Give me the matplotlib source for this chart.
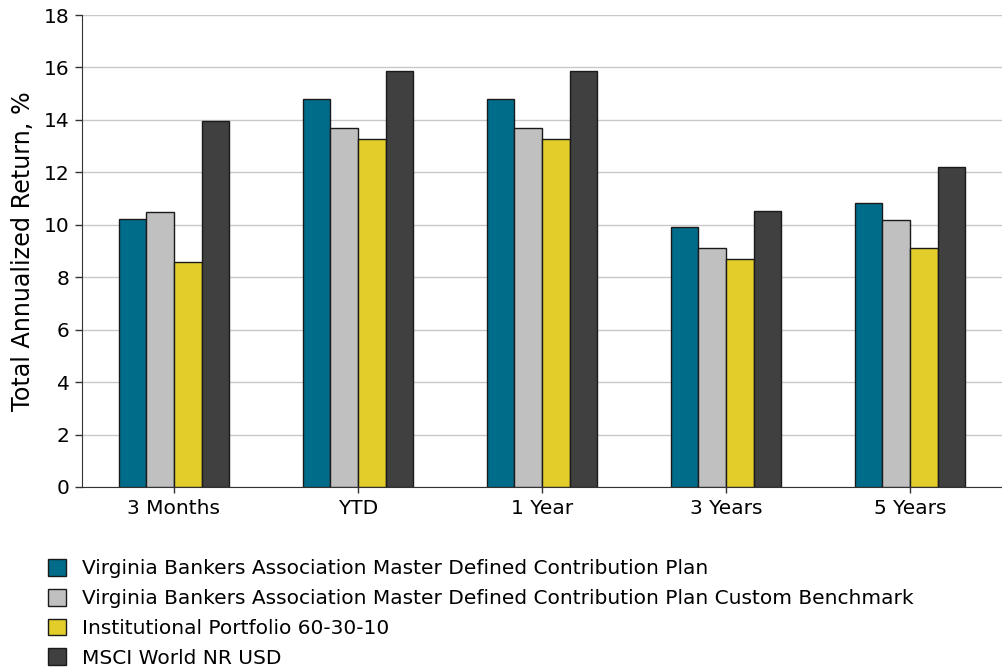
import matplotlib
matplotlib.use("Agg")
import matplotlib.pyplot as plt
import numpy as np

periods = ["3 Months", "YTD", "1 Year", "3 Years", "5 Years"]
series_names = [
    "Virginia Bankers Association Master Defined Contribution Plan",
    "Virginia Bankers Association Master Defined Contribution Plan Custom Benchmark",
    "Institutional Portfolio 60-30-10",
    "MSCI World NR USD",
]
plan = [10.21, 14.80, 14.80, 9.93, 10.82]
custom_benchmark = [10.50, 13.69, 13.69, 9.13, 10.20]
institutional = [8.59, 13.27, 13.27, 8.71, 9.13]
msci_world = [13.97, 15.88, 15.88, 10.54, 12.20]
yticks = [0, 2, 4, 6, 8, 10, 12, 14, 16, 18]

series_values = [plan, custom_benchmark, institutional, msci_world]
colors = ["#006C8A", "#C0C0C0", "#E2CD2A", "#404040"]

plt.rcParams["font.family"] = ["DejaVu Sans"]

fig = plt.figure(figsize=(10.02, 6.68), dpi=100)
ax = fig.add_axes([0.0818, 0.271, 0.9182, 0.7065])

x = np.arange(len(periods))
width = 0.15
for i, (vals, col) in enumerate(zip(series_values, colors)):
    offset = (i - 1.5) * width
    ax.bar(x + offset, vals, width, color=col, edgecolor="#1a1a1a",
           linewidth=1.0, label=series_names[i], zorder=3)

ax.set_xlim(-0.5, len(periods) - 0.5)
ax.set_ylim(0, 18)
ax.set_yticks(yticks)
ax.set_xticks(x)
ax.set_xticklabels(periods, fontsize=14.5)
ax.tick_params(axis="y", labelsize=14.5, length=5, color="#333333", width=1, pad=4)
ax.tick_params(axis="x", length=4, color="#333333", width=1, pad=5)
ax.yaxis.grid(True, color="#c8c8c8", linewidth=1, zorder=0)
ax.set_axisbelow(True)
for s in ["top", "right"]:
    ax.spines[s].set_visible(False)
ax.spines["left"].set_color("#333333")
ax.spines["bottom"].set_color("#333333")
ax.set_ylabel("Total Annualized Return, %", fontsize=17.2, labelpad=6)

handles, labels = ax.get_legend_handles_labels()
fig.legend(handles, labels, loc="upper left", bbox_to_anchor=(0.040, 0.175),
           frameon=False, fontsize=14.5, handlelength=0.9, handleheight=0.9,
           handletextpad=0.8, labelspacing=0.52, borderaxespad=0)

fig.savefig("out.png", dpi=100)
